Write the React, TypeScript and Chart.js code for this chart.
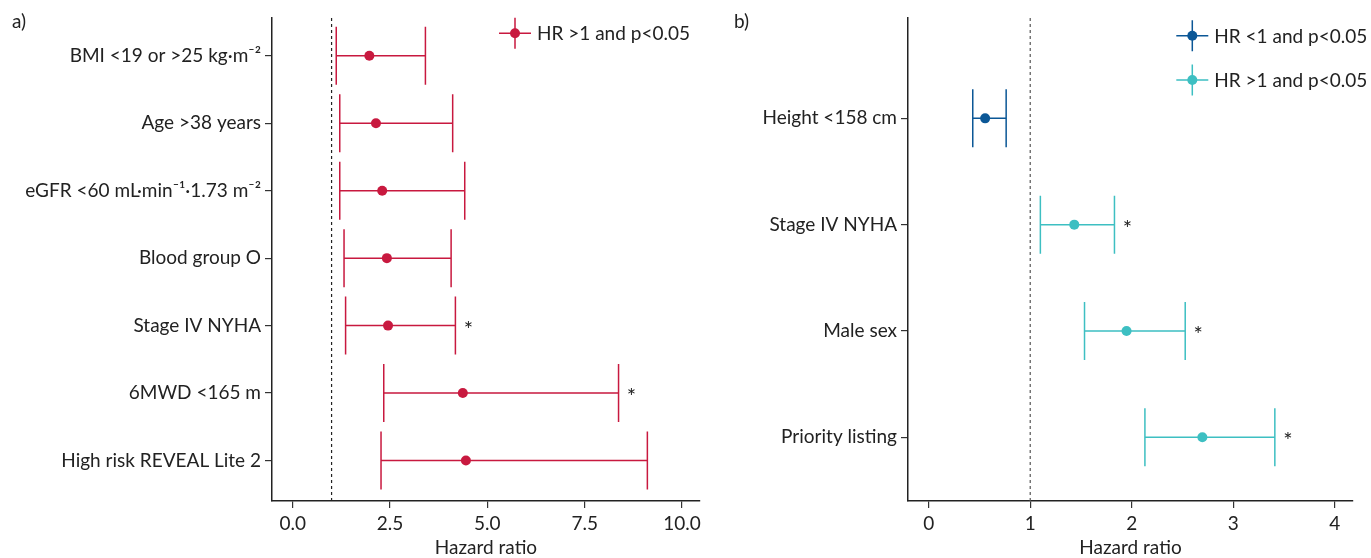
import React, { useEffect, useRef } from 'react';
import { Chart, registerables } from 'chart.js';

Chart.register(...registerables);

// ---------- Panel a) ----------
const leftCategories = [
  'BMI <19 or >25 kg·m⁻²',
  'Age >38 years',
  'eGFR <60 mL·min⁻¹·1.73 m⁻²',
  'Blood group O',
  'Stage IV NYHA',
  '6MWD <165 m',
  'High risk REVEAL Lite 2',
];
const leftHR = [1.97, 2.14, 2.3, 2.42, 2.45, 4.37, 4.45];
const leftLow = [1.12, 1.21, 1.21, 1.32, 1.36, 2.34, 2.27];
const leftHigh = [3.41, 4.11, 4.42, 4.07, 4.18, 8.37, 9.11];
const leftGroup = [0, 0, 0, 0, 0, 0, 0];
const leftStar = [false, false, false, false, true, true, false];
const leftTickValues = [0, 2.5, 5, 7.5, 10];
const leftTickLabels = ['0.0', '2.5', '5.0', '7.5', '10.0'];
const leftLegend = ['HR >1 and p<0.05'];
const leftColors = ['#C8193F'];

// ---------- Panel b) ----------
const rightCategories = ['Height <158 cm', 'Stage IV NYHA', 'Male sex', 'Priority listing'];
const rightHR = [0.556, 1.434, 1.949, 2.696];
const rightLow = [0.434, 1.1, 1.535, 2.13];
const rightHigh = [0.763, 1.83, 2.527, 3.41];
const rightGroup = [0, 1, 1, 1];
const rightStar = [false, true, true, true];
const rightTickValues = [0, 1, 2, 3, 4];
const rightTickLabels = ['0', '1', '2', '3', '4'];
const rightLegend = ['HR <1 and p<0.05', 'HR >1 and p<0.05'];
const rightColors = ['#0B5796', '#3DBFC2'];

const FONT = 'Lato';
const FS = 19;
const TEXT = '#222';

const forestPlugin = {
  id: 'forest',
  beforeDatasetsDraw(chart: any) {
    const o = chart.options.plugins.forest;
    const { ctx, chartArea } = chart;
    const xs = chart.scales.x;
    const ys = chart.scales.y;
    ctx.save();
    // reference line at HR = 1
    const xr = xs.getPixelForValue(1);
    ctx.setLineDash([3, 3]);
    ctx.strokeStyle = o.refColor;
    ctx.lineWidth = 1.2;
    ctx.beginPath();
    ctx.moveTo(xr, chartArea.top);
    ctx.lineTo(xr, chartArea.bottom);
    ctx.stroke();
    ctx.setLineDash([]);
    // error bars
    ctx.lineWidth = 1.5;
    o.low.forEach((lo: number, i: number) => {
      const yp = ys.getPixelForValue(i + 1);
      const xl = xs.getPixelForValue(lo);
      const xh = xs.getPixelForValue(o.high[i]);
      ctx.strokeStyle = o.colors[o.group[i]];
      ctx.beginPath();
      ctx.moveTo(xl, yp);
      ctx.lineTo(xh, yp);
      ctx.moveTo(xl, yp - o.cap);
      ctx.lineTo(xl, yp + o.cap);
      ctx.moveTo(xh, yp - o.cap);
      ctx.lineTo(xh, yp + o.cap);
      ctx.stroke();
    });
    ctx.restore();
  },
  afterDatasetsDraw(chart: any) {
    const o = chart.options.plugins.forest;
    const { ctx } = chart;
    const xs = chart.scales.x;
    const ys = chart.scales.y;
    ctx.save();
    // asterisks
    ctx.fillStyle = TEXT;
    ctx.font = `22px ${FONT}`;
    ctx.textAlign = 'center';
    ctx.textBaseline = 'alphabetic';
    o.star.forEach((s: boolean, i: number) => {
      if (!s) return;
      const yp = ys.getPixelForValue(i + 1);
      const xh = xs.getPixelForValue(o.high[i]);
      ctx.fillText('*', xh + 13, yp + 11);
    });
    // legend
    o.legend.forEach((label: string, i: number) => {
      const cx = o.legendX;
      const cy = o.legendY + i * o.legendGap;
      const c = o.colors[o.legendGroup[i]];
      ctx.strokeStyle = c;
      ctx.lineWidth = 1.5;
      ctx.beginPath();
      ctx.moveTo(cx - 16, cy);
      ctx.lineTo(cx + 16, cy);
      ctx.moveTo(cx, cy - 15.5);
      ctx.lineTo(cx, cy + 15.5);
      ctx.stroke();
      ctx.fillStyle = c;
      ctx.beginPath();
      ctx.arc(cx, cy, 5, 0, Math.PI * 2);
      ctx.fill();
      ctx.fillStyle = TEXT;
      ctx.font = `${FS}px ${FONT}`;
      ctx.textAlign = 'left';
      ctx.textBaseline = 'alphabetic';
      ctx.fillText(label, cx + 22, cy + 7);
    });
    // panel label
    ctx.fillStyle = TEXT;
    ctx.font = `${FS}px ${FONT}`;
    ctx.textAlign = 'left';
    ctx.textBaseline = 'alphabetic';
    ctx.fillText(o.panel, o.panelX, 28);
    ctx.restore();
  },
};

function buildConfig(p: any) {
  const groups = p.colors.map((_: string, g: number) => g);
  const datasets = groups.map((g: number) => ({
    label: p.legend[p.legendGroup.indexOf(g)] || '',
    data: p.hr
      .map((v: number, i: number) => ({ x: v, y: i + 1, g: p.group[i] }))
      .filter((d: any) => d.g === g),
    backgroundColor: p.colors[g],
    borderColor: p.colors[g],
    pointRadius: 5,
    pointBorderWidth: 0,
  }));
  return {
    type: 'scatter',
    data: { datasets },
    plugins: [forestPlugin],
    options: {
      animation: false,
      responsive: false,
      maintainAspectRatio: false,
      events: [],
      layout: { padding: { left: 0, right: p.padRight, top: 18, bottom: 0 } },
      plugins: {
        legend: { display: false },
        tooltip: { enabled: false },
        forest: {
          low: p.low,
          high: p.high,
          group: p.group,
          star: p.star,
          colors: p.colors,
          cap: 29,
          refColor: p.refColor,
          legend: p.legend,
          legendGroup: p.legendGroup,
          legendX: p.legendX,
          legendY: p.legendY,
          legendGap: 44.3,
          panel: p.panel,
          panelX: p.panelX,
        },
      },
      scales: {
        x: {
          type: 'linear',
          min: p.xMin,
          max: p.xMax,
          afterBuildTicks: (s: any) => {
            s.ticks = p.tickValues.map((v: number) => ({ value: v }));
          },
          afterFit: (s: any) => {
            s.height = 57;
          },
          ticks: {
            callback: (v: number) => p.tickLabels[p.tickValues.indexOf(v)],
            font: { family: FONT, size: FS },
            color: TEXT,
            padding: 4,
            maxRotation: 0,
            autoSkip: false,
          },
          grid: { drawOnChartArea: false, drawTicks: true, tickLength: 7, color: '#333', lineWidth: 1.2 },
          border: { display: true, color: '#222', width: 1.5 },
          title: {
            display: true,
            text: 'Hazard ratio',
            font: { family: FONT, size: FS },
            color: TEXT,
            padding: { top: 0, bottom: -1 },
          },
        },
        y: {
          type: 'linear',
          reverse: true,
          min: p.yMin,
          max: p.yMax,
          afterBuildTicks: (s: any) => {
            s.ticks = p.categories.map((_: string, i: number) => ({ value: i + 1 }));
          },
          afterFit: (s: any) => {
            s.width = p.yWidth;
          },
          ticks: {
            callback: (v: number) => p.categories[v - 1],
            font: { family: FONT, size: FS },
            color: TEXT,
            padding: 4,
            autoSkip: false,
          },
          grid: { drawOnChartArea: false, drawTicks: true, tickLength: 7, color: '#333', lineWidth: 1.2 },
          border: { display: true, color: '#222', width: 1.5 },
        },
      },
    },
  };
}

function ForestPanel(props: any) {
  const ref = useRef<HTMLCanvasElement>(null);
  useEffect(() => {
    const chart = new Chart(ref.current as HTMLCanvasElement, buildConfig(props.p) as any);
    return () => chart.destroy();
  }, []);
  return (
    <canvas
      ref={ref}
      width={props.width}
      height={558}
      style={{ position: 'absolute', left: props.left, top: 0, width: props.width, height: 558 }}
    />
  );
}

const leftPanel = {
  categories: leftCategories,
  hr: leftHR,
  low: leftLow,
  high: leftHigh,
  group: leftGroup,
  star: leftStar,
  colors: leftColors,
  legend: leftLegend,
  legendGroup: [0],
  legendX: 515,
  legendY: 33.3,
  tickValues: leftTickValues,
  tickLabels: leftTickLabels,
  xMin: -0.53,
  xMax: 10.46,
  yMin: 0.44,
  yMax: 7.6,
  yWidth: 272,
  padRight: 5,
  refColor: '#222',
  panel: 'a)',
  panelX: 12,
};

const rightPanel = {
  categories: rightCategories,
  hr: rightHR,
  low: rightLow,
  high: rightHigh,
  group: rightGroup,
  star: rightStar,
  colors: rightColors,
  legend: rightLegend,
  legendGroup: [0, 1],
  legendX: 487.3,
  legendY: 35.7,
  tickValues: rightTickValues,
  tickLabels: rightTickLabels,
  xMin: -0.204,
  xMax: 4.18,
  yMin: 0.056,
  yMax: 4.6,
  yWidth: 203,
  padRight: 18,
  refColor: '#555',
  panel: 'b)',
  panelX: 29,
};

export default function App() {
  return (
    <div style={{ position: 'fixed', left: 0, top: 0, width: 1371, height: 558, background: '#fff' }}>
      <ForestPanel p={leftPanel} left={0} width={705} />
      <ForestPanel p={rightPanel} left={705} width={666} />
    </div>
  );
}
